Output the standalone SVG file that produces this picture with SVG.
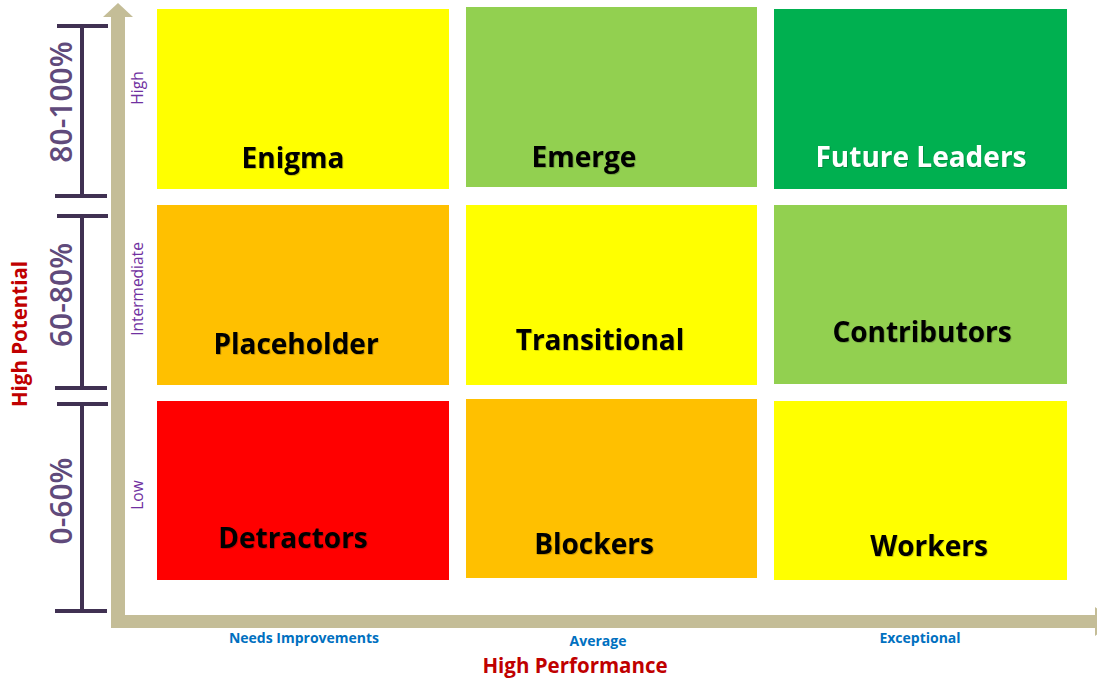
<svg xmlns="http://www.w3.org/2000/svg" width="1097" height="678" viewBox="0 0 1097 678">
  <defs>
    <filter id="soft" x="-10%" y="-30%" width="120%" height="160%">
      <feDropShadow dx="0.8" dy="0.8" stdDeviation="0.6" flood-color="#000" flood-opacity="0.25"/>
    </filter>
    <style>
      .cell { stroke: none; }
      .yellow { fill: #FFFF00; }
      .lime { fill: #92D050; }
      .green { fill: #00B050; }
      .orange { fill: #FFC000; }
      .red { fill: #FF0000; }
      .lbl { font-family: "Open Sans", "Liberation Sans", sans-serif; font-weight: 700; font-size: 28px; text-anchor: middle; fill: #000; filter: url(#soft); }
      .lbl.light { fill: #FFFFFF; }
      .axis { fill: #C4BD97; }
      .bracket { stroke: #403152; stroke-width: 4; fill: none; }
      .range { font-family: "Open Sans", "Liberation Sans", sans-serif; font-weight: 600; font-size: 30px; fill: #604A7B; text-anchor: middle; dominant-baseline: central; }
      .level { font-family: "Open Sans", "Liberation Sans", sans-serif; font-size: 15.5px; fill: #7030A0; text-anchor: middle; dominant-baseline: central; }
      .perf { font-family: "Open Sans", "Liberation Sans", sans-serif; font-weight: 700; font-size: 14px; fill: #0070C0; text-anchor: middle; }
      .title { font-family: "Open Sans", "Liberation Sans", sans-serif; font-weight: 700; font-size: 20.5px; fill: #C00000; text-anchor: middle; }
    </style>
  </defs>

  <rect width="1097" height="678" fill="#FFFFFF"/>

  <!-- axes -->
  <g id="axes">
    <rect class="axis" x="111" y="16" width="14" height="612"/>
    <polygon class="axis" points="103,17 118,3 133,17"/>
    <rect class="axis" x="111" y="615" width="984" height="13"/>
    <polygon class="axis" points="1095,607 1113,621.5 1095,636"/>
  </g>

  <!-- range brackets on the potential axis -->
  <g id="brackets">
    <path class="bracket" d="M57,26 H108 M82,26 V196 M55,196 H107"/>
    <path class="bracket" d="M57,216 H108 M82,216 V388 M55,388 H107"/>
    <path class="bracket" d="M57,404 H108 M82,404 V611 M55,611 H107"/>
    <text class="range" transform="translate(60,102) rotate(-90)">80-100%</text>
    <text class="range" transform="translate(60,295) rotate(-90)">60-80%</text>
    <text class="range" transform="translate(60,501) rotate(-90)">0-60%</text>
    <text class="level" transform="translate(137,88) rotate(-90)">High</text>
    <text class="level" transform="translate(137,289) rotate(-90)">Intermediate</text>
    <text class="level" transform="translate(137,495) rotate(-90)">Low</text>
  </g>

  <!-- axis titles and performance levels -->
  <g id="axis-labels">
    <text class="title" transform="translate(27,334) rotate(-90)">High Potential</text>
    <text class="title" x="575" y="673">High Performance</text>
    <text class="perf" x="304" y="643">Needs Improvements</text>
    <text class="perf" x="598" y="646">Average</text>
    <text class="perf" x="920" y="643">Exceptional</text>
  </g>

  <!-- grid cells -->
  <g id="enigma">
    <rect class="cell yellow" x="157" y="9" width="292" height="180"/>
    <text class="lbl" x="293" y="168">Enigma</text>
  </g>
  <g id="emerge">
    <rect class="cell lime" x="466" y="7" width="291" height="180"/>
    <text class="lbl" x="584" y="167">Emerge</text>
  </g>
  <g id="future-leaders">
    <rect class="cell green" x="774" y="9" width="293" height="180"/>
    <text class="lbl light" x="921" y="167">Future Leaders</text>
  </g>
  <g id="placeholder">
    <rect class="cell orange" x="157" y="205" width="292" height="180"/>
    <text class="lbl" x="296" y="354">Placeholder</text>
  </g>
  <g id="transitional">
    <rect class="cell yellow" x="466" y="205" width="291" height="180"/>
    <text class="lbl" x="600" y="350">Transitional</text>
  </g>
  <g id="contributors">
    <rect class="cell lime" x="774" y="205" width="293" height="179"/>
    <text class="lbl" x="922" y="342">Contributors</text>
  </g>
  <g id="detractors">
    <rect class="cell red" x="157" y="401" width="292" height="179"/>
    <text class="lbl" x="293" y="548">Detractors</text>
  </g>
  <g id="blockers">
    <rect class="cell orange" x="466" y="399" width="291" height="179"/>
    <text class="lbl" x="594" y="554">Blockers</text>
  </g>
  <g id="workers">
    <rect class="cell yellow" x="774" y="401" width="293" height="179"/>
    <text class="lbl" x="929" y="556">Workers</text>
  </g>
</svg>
